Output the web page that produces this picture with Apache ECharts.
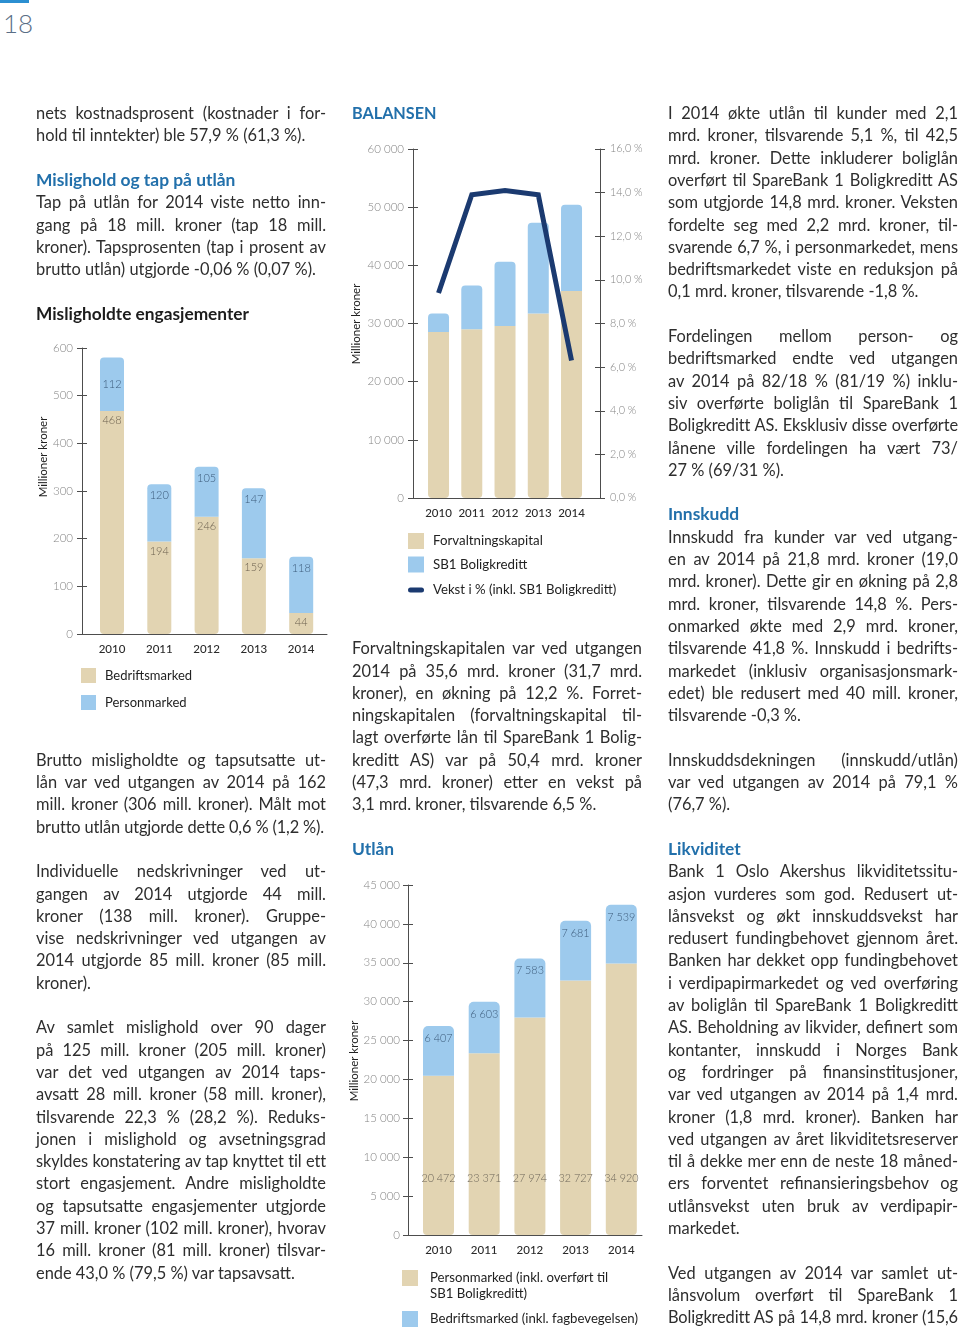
<!DOCTYPE html>
<html><head><meta charset="utf-8">
<script src="https://cdn.jsdelivr.net/npm/echarts@6/dist/echarts.min.js"></script>
<style>
html,body{margin:0;padding:0;background:#fff;}
#page{position:relative;width:960px;height:1328px;overflow:hidden;font-family:Lato,'Open Sans',sans-serif;color:#2e2e2e;}
#chart{position:absolute;left:0;top:0;width:960px;height:1328px;}
.ln{position:absolute;width:290px;height:22px;line-height:22px;font-size:16.4px;font-weight:400;white-space:nowrap;}
.j{text-align:justify;text-align-last:justify;}
.h{font-weight:700;color:#2270ab;font-size:17.4px;}
.hd{font-weight:700;color:#1c1c1c;font-size:17.3px;}
.caps{font-size:16.2px;}
#pnum{position:absolute;left:3px;top:7px;font-size:26px;font-weight:300;color:#5a6e86;font-family:Lato,sans-serif;}
#pbar{position:absolute;left:0;top:0;width:29px;height:3px;background:#2b8fd1;}
</style>
</head>
<body>
<div id="page">
  <div id="pbar"></div>
  <div id="pnum">18</div>
  <div id="chart"></div>
  <div id="text"></div>
</div>
<script>
// ---------- data ----------
const years = ['2010', '2011', '2012', '2013', '2014'];
// Misligholdte engasjementer (mill. kroner)
const misBedrift = [468, 194, 246, 159, 44];
const misPerson = [112, 120, 105, 147, 118];
// Balansen (mill. kroner, %)
const balForvaltning = [28550, 28990, 29580, 31700, 35600];
const balBoligkreditt = [3170, 7540, 11040, 15600, 14800];
const balVekst = [9.4, 13.9, 14.1, 13.9, 6.3];
// Utlån (mill. kroner)
const utlPerson = [20472, 23371, 27974, 32727, 34920];
const utlBedrift = [6407, 6603, 7583, 7681, 7539];

// ---------- text ----------
const col1 = [
 [0,'j','nets kostnadsprosent (kostnader i for-'],
 [1,'l','hold til inntekter) ble 57,9 % (61,3 %).'],
 [3,'h','Mislighold og tap på utlån'],
 [4,'j','Tap på utlån for 2014 viste netto inn-'],
 [5,'j','gang på 18 mill. kroner (tap 18 mill.'],
 [6,'j','kroner).  Tapsprosenten (tap i prosent av'],
 [7,'l','brutto utlån) utgjorde -0,06 % (0,07 %).'],
 [9,'hd','Misligholdte engasjementer'],
 [29,'j','Brutto misligholdte og tapsutsatte ut-'],
 [30,'j','lån var ved utgangen av 2014 på 162'],
 [31,'j','mill. kroner (306 mill. kroner). Målt mot'],
 [32,'l','brutto utlån utgjorde dette 0,6 % (1,2 %).'],
 [34,'j','Individuelle nedskrivninger ved ut-'],
 [35,'j','gangen av 2014 utgjorde 44 mill.'],
 [36,'j','kroner (138 mill. kroner). Gruppe-'],
 [37,'j','vise nedskrivninger ved utgangen av'],
 [38,'j','2014 utgjorde 85 mill. kroner (85 mill.'],
 [39,'l','kroner).'],
 [41,'j','Av samlet mislighold over 90 dager'],
 [42,'j','på 125 mill. kroner (205 mill. kroner)'],
 [43,'j','var det ved utgangen av 2014 taps-'],
 [44,'j','avsatt 28 mill. kroner (58 mill. kroner),'],
 [45,'j','tilsvarende 22,3 % (28,2 %). Reduks-'],
 [46,'j','jonen i mislighold og avsetningsgrad'],
 [47,'j','skyldes konstatering av tap knyttet til ett'],
 [48,'j','stort engasjement. Andre misligholdte'],
 [49,'j','og tapsutsatte engasjementer utgjorde'],
 [50,'j','37 mill. kroner (102 mill. kroner), hvorav'],
 [51,'j','16 mill. kroner (81 mill. kroner) tilsvar-'],
 [52,'l','ende 43,0 % (79,5 %) var tapsavsatt.']
];
const col2 = [
 [0,'h caps','BALANSEN'],
 [24,'j','Forvaltningskapitalen var ved utgangen'],
 [25,'j','2014 på 35,6 mrd. kroner (31,7 mrd.'],
 [26,'j','kroner), en økning på 12,2 %. Forret-'],
 [27,'j','ningskapitalen (forvaltningskapital til-'],
 [28,'j','lagt overførte lån til SpareBank 1 Bolig-'],
 [29,'j','kreditt AS) var på 50,4 mrd. kroner'],
 [30,'j','(47,3 mrd. kroner) etter en vekst på'],
 [31,'l','3,1 mrd. kroner, tilsvarende 6,5 %.'],
 [33,'h','Utlån']
];
const col3 = [
 [0,'j','I 2014 økte utlån til kunder med 2,1'],
 [1,'j','mrd. kroner, tilsvarende 5,1 %, til 42,5'],
 [2,'j','mrd. kroner. Dette inkluderer boliglån'],
 [3,'j','overført til SpareBank 1 Boligkreditt AS'],
 [4,'j','som utgjorde 14,8 mrd. kroner. Veksten'],
 [5,'j','fordelte seg med 2,2 mrd. kroner, til-'],
 [6,'j','svarende 6,7 %, i personmarkedet, mens'],
 [7,'j','bedriftsmarkedet viste en reduksjon på'],
 [8,'l','0,1 mrd. kroner, tilsvarende -1,8 %.'],
 [10,'j','Fordelingen mellom person- og'],
 [11,'j','bedriftsmarked endte ved utgangen'],
 [12,'j','av 2014 på 82/18 % (81/19 %) inklu-'],
 [13,'j','siv overførte boliglån til SpareBank 1'],
 [14,'j','Boligkreditt AS. Eksklusiv disse overførte'],
 [15,'j','lånene ville fordelingen ha vært 73/'],
 [16,'l','27 % (69/31 %).'],
 [18,'h','Innskudd'],
 [19,'j','Innskudd fra kunder var ved utgang-'],
 [20,'j','en av 2014 på 21,8 mrd. kroner (19,0'],
 [21,'j','mrd. kroner). Dette gir en økning på 2,8'],
 [22,'j','mrd. kroner, tilsvarende 14,8 %. Pers-'],
 [23,'j','onmarked økte med 2,9 mrd. kroner,'],
 [24,'j','tilsvarende 41,8 %. Innskudd i bedrifts-'],
 [25,'j','markedet (inklusiv organisasjonsmark-'],
 [26,'j','edet) ble redusert med 40 mill. kroner,'],
 [27,'l','tilsvarende -0,3 %.'],
 [29,'j','Innskuddsdekningen (innskudd/utlån)'],
 [30,'j','var ved utgangen av 2014 på 79,1 %'],
 [31,'l','(76,7 %).'],
 [33,'h','Likviditet'],
 [34,'j','Bank 1 Oslo Akershus likviditetssitu-'],
 [35,'j','asjon vurderes som god. Redusert ut-'],
 [36,'j','lånsvekst og økt innskuddsvekst har'],
 [37,'j','redusert fundingbehovet gjennom året.'],
 [38,'j','Banken har dekket opp fundingbehovet'],
 [39,'j','i verdipapirmarkedet og ved overføring'],
 [40,'j','av boliglån til SpareBank 1 Boligkreditt'],
 [41,'j','AS. Beholdning av likvider, definert som'],
 [42,'j','kontanter, innskudd i Norges Bank'],
 [43,'j','og fordringer på finansinstitusjoner,'],
 [44,'j','var ved utgangen av 2014 på 1,4 mrd.'],
 [45,'j','kroner (1,8 mrd. kroner). Banken har'],
 [46,'j','ved utgangen av året likviditetsreserver'],
 [47,'j','til å dekke mer enn de neste 18 måned-'],
 [48,'j','ers forventet refinansieringsbehov og'],
 [49,'j','utlånsvekst uten bruk av verdipapir-'],
 [50,'l','markedet.'],
 [52,'j','Ved utgangen av 2014 var samlet ut-'],
 [53,'j','lånsvolum overført til SpareBank 1'],
 [54,'j','Boligkreditt AS på 14,8 mrd. kroner (15,6']
];

const textHost = document.getElementById('text');
function addCol(lines, x){
  lines.forEach(([idx, cls, t])=>{
    const d = document.createElement('div');
    d.className = 'ln ' + cls;
    d.style.left = x + 'px';
    d.style.top = (113 + 22.3*idx - 11) + 'px';
    d.textContent = t;
    textHost.appendChild(d);
  });
}
addCol(col1, 36); addCol(col2, 352); addCol(col3, 668);

function fitLines(){
  document.querySelectorAll('.ln').forEach(el=>{
    el.style.letterSpacing = '';
    el.style.whiteSpace = 'nowrap';
    el.style.display = 'inline-block'; el.style.width = 'auto';
    const w = el.getBoundingClientRect().width;
    el.style.display = ''; el.style.width = '';
    if (w > 288) {
      el.style.letterSpacing = (-(w - 287)/el.textContent.length) + 'px';
    }
    if (el.classList.contains('j')) el.style.whiteSpace = 'normal';
  });
}
fitLines();
if (document.fonts && document.fonts.ready) document.fonts.ready.then(fitLines);

// ---------- chart ----------
const BEIGE = '#E2D4B2', BLUE = '#9DCAED', NAVY = '#1B3A70';
const AXC = '#4d4d4d', TICKC = '#858585';
const FF = 'Lato, "Open Sans", sans-serif';
const sp = v => String(v).replace(/\B(?=(\d{3})+(?!\d))/g, ' ');
const pct = v => v.toFixed(1).replace('.', ',') + ' %';

// visible frame axes (axis lines + ticks)
function xFrame(gi){
  return {type:'value', gridIndex:gi, min:0, max:1,
    axisLine:{show:true, lineStyle:{color:AXC, width:1}},
    axisTick:{show:false}, splitLine:{show:false}, axisLabel:{show:false}};
}
function yAx(gi, min, max, interval, fmt, pos, margin, fs){
  return {type:'value', gridIndex:gi, min, max, interval, position:pos||'left',
    axisLine:{show:true, lineStyle:{color:AXC, width:1}},
    axisTick:{show:true, length:5, lineStyle:{color:AXC}},
    splitLine:{show:false},
    axisLabel:{formatter:fmt, color:TICKC, fontSize:fs||11.5, fontWeight:300, margin:margin, fontFamily:FF}};
}
function yTwin(gi, min, max, interval, pos){
  return {type:'value', gridIndex:gi, min, max, interval, position:pos||'left',
    axisLine:{show:false}, axisTick:{show:true, inside:true, length:5, lineStyle:{color:AXC}},
    axisLabel:{show:false}, splitLine:{show:false}};
}
// bar-placement axes (category band positions)
function xCat(gi){
  return {type:'category', gridIndex:gi, data:years,
    axisLine:{show:false}, axisTick:{show:false}, splitLine:{show:false},
    axisLabel:{interval:0, hideOverlap:false, color:'#2a2a2a', fontSize:11.5, fontWeight:500, margin:9, fontFamily:FF}};
}
function yHidden(gi, min, max, pos){
  return {type:'value', gridIndex:gi, min, max, position:pos||'left', show:false};
}

const lblBase = {show:true, fontSize:11, fontWeight:300, fontFamily:FF, formatter:p=>sp(p.value)};
const gridBase = {outerBoundsMode:'none', containLabel:false};

const option = {
  animation:false,
  textStyle:{fontFamily:FF},
  grid:[
    Object.assign({left:82, top:348, width:245, height:286}, gridBase),
    Object.assign({left:413, top:149, width:187, height:349}, gridBase),
    Object.assign({left:408, top:885, width:234, height:350}, gridBase),
    Object.assign({left:88.35, top:348, width:236.5, height:286}, gridBase),
    Object.assign({left:421.9, top:149, width:166.25, height:349}, gridBase),
    Object.assign({left:415.65, top:885, width:228.5, height:350}, gridBase)
  ],
  xAxis:[ xFrame(0), xFrame(1), xFrame(2), xCat(3), xCat(4), xCat(5) ],
  yAxis:[
    yAx(0, 0, 600, 100, v=>String(v), 'left', 9),
    yTwin(0, 0, 600, 100, 'left'),
    yAx(1, 0, 60000, 10000, sp, 'left', 9),
    yAx(1, 0, 16, 2, pct, 'right', 10, 10.8),
    yTwin(1, 0, 60000, 10000, 'left'),
    yTwin(1, 0, 16, 2, 'right'),
    yAx(2, 0, 45000, 5000, sp, 'left', 8),
    yTwin(2, 0, 45000, 5000, 'left'),
    yHidden(3, 0, 600),
    yHidden(4, 0, 60000),
    yHidden(4, 0, 16, 'right'),
    yHidden(5, 0, 45000)
  ],
  legend:[
    {left:81, top:668, orient:'vertical', padding:0, itemWidth:15, itemHeight:15, itemGap:12, selectedMode:false,
     data:[{name:'Bedriftsmarked', icon:'rect'},{name:'Personmarked', icon:'rect'}],
     textStyle:{fontSize:13, color:'#222', lineHeight:15, padding:[0,0,0,4], fontFamily:FF}},
    {left:408, top:533, orient:'vertical', padding:0, itemWidth:16, itemHeight:16, itemGap:7.5, selectedMode:false,
     data:[{name:'Forvaltningskapital', icon:'rect'},{name:'SB1 Boligkreditt', icon:'rect'}],
     textStyle:{fontSize:13.3, color:'#222', lineHeight:16, padding:[0,0,0,4], fontFamily:FF}},
    {left:408, top:582, orient:'vertical', padding:0, itemWidth:16, itemHeight:5, selectedMode:false,
     data:[{name:'Vekst i % (inkl. SB1 Boligkreditt)', icon:'path://M2.5,0 H13.5 A2.5,2.5 0 0 1 13.5,5 H2.5 A2.5,2.5 0 0 1 2.5,0 Z', itemStyle:{color:NAVY}}],
     textStyle:{fontSize:13.2, color:'#222', lineHeight:16, padding:[0,0,0,4], fontFamily:FF}},
    {left:402, top:1254, orient:'vertical', padding:0, itemWidth:16, itemHeight:16, selectedMode:false,
     data:[{name:'Personmarked (inkl. overført til SB1 Boligkreditt)', icon:'rect'}],
     formatter:n=>'\n' + n.replace(' SB1', '\nSB1'),
     textStyle:{fontSize:13.2, color:'#222', lineHeight:16, padding:[0,0,0,7], fontFamily:FF}},
    {left:402, top:1311, orient:'vertical', padding:0, itemWidth:16, itemHeight:16, selectedMode:false,
     data:[{name:'Bedriftsmarked (inkl. fagbevegelsen)', icon:'rect'}],
     textStyle:{fontSize:13.2, color:'#222', lineHeight:16, padding:[0,0,0,7], fontFamily:FF}}
  ],
  graphic:[
    {type:'text', x:43, y:457, rotation:Math.PI/2, style:{text:'Millioner kroner', align:'center', verticalAlign:'middle', fontSize:11.5, fill:'#222', fontFamily:FF}},
    {type:'text', x:356, y:324, rotation:Math.PI/2, style:{text:'Millioner kroner', align:'center', verticalAlign:'middle', fontSize:11.5, fill:'#222', fontFamily:FF}},
    {type:'text', x:354, y:1061, rotation:Math.PI/2, style:{text:'Millioner kroner', align:'center', verticalAlign:'middle', fontSize:11.5, fill:'#222', fontFamily:FF}}
  ],
  series:[
    {type:'bar', name:'Bedriftsmarked', xAxisIndex:3, yAxisIndex:8, stack:'mis', barWidth:24,
     itemStyle:{color:BEIGE, borderRadius:[0,0,4,4]},
     label:Object.assign({}, lblBase, {position:'insideTop', distance:4, color:'#6d6250'}),
     data:misBedrift},
    {type:'bar', name:'Personmarked', xAxisIndex:3, yAxisIndex:8, stack:'mis', barWidth:24,
     itemStyle:{color:BLUE, borderRadius:[4,4,0,0]},
     label:Object.assign({}, lblBase, {position:'insideTop', distance:6, color:'#3d5c7c'}),
     data:misPerson.map((v,i)=> i===0 ? {value:v, label:{position:'inside'}} : v)},
    {type:'bar', name:'Forvaltningskapital', xAxisIndex:4, yAxisIndex:9, stack:'bal', barWidth:21,
     itemStyle:{color:BEIGE, borderRadius:[0,0,4,4]}, data:balForvaltning},
    {type:'bar', name:'SB1 Boligkreditt', xAxisIndex:4, yAxisIndex:9, stack:'bal', barWidth:21,
     itemStyle:{color:BLUE, borderRadius:[4,4,0,0]}, data:balBoligkreditt},
    {type:'line', name:'Vekst i % (inkl. SB1 Boligkreditt)', xAxisIndex:4, yAxisIndex:10, z:5,
     symbol:'none', lineStyle:{color:NAVY, width:5, join:'miter'}, itemStyle:{color:NAVY},
     data:balVekst},
    {type:'bar', name:'Personmarked (inkl. overført til SB1 Boligkreditt)', xAxisIndex:5, yAxisIndex:11, stack:'utl', barWidth:31,
     itemStyle:{color:BEIGE, borderRadius:[0,0,4,4]},
     label:Object.assign({}, lblBase, {position:'insideBottom', distance:51, fontSize:10.8, color:'#6d6659'}),
     data:utlPerson},
    {type:'bar', name:'Bedriftsmarked (inkl. fagbevegelsen)', xAxisIndex:5, yAxisIndex:11, stack:'utl', barWidth:31,
     itemStyle:{color:BLUE, borderRadius:[5,5,0,0]},
     label:Object.assign({}, lblBase, {position:'insideTop', distance:7, fontSize:10.8, color:'#3d5c7c'}),
     data:utlBedrift}
  ]
};
const chart = echarts.init(document.getElementById('chart'), null, {renderer:'canvas'});
chart.setOption(option);
</script>
</body></html>
